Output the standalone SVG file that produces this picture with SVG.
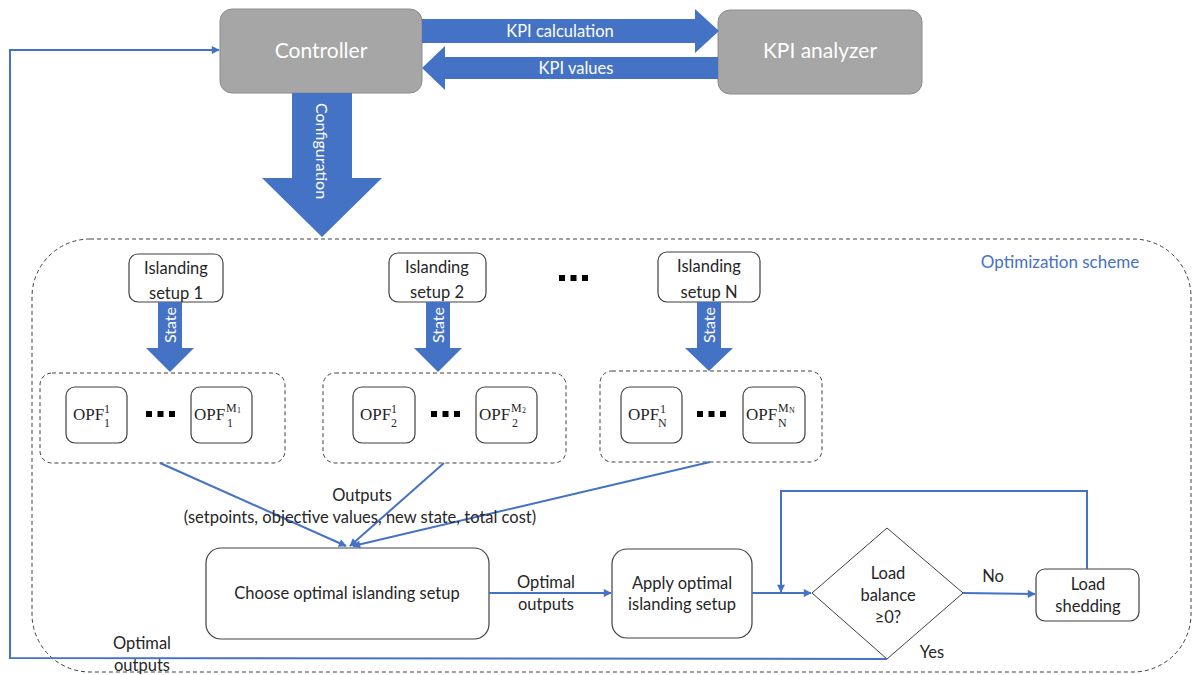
<svg xmlns="http://www.w3.org/2000/svg" width="1192" height="675" viewBox="0 0 1192 675">
  <defs>
    <style>
      .gray { fill: #a6a6a6; stroke: #8c8c8c; stroke-width: 1; }
      .box { fill: #ffffff; stroke: #404040; stroke-width: 1.2; }
      .dash { fill: none; stroke: #404040; stroke-width: 1; stroke-dasharray: 4 3; }
      .block { fill: #4472c4; }
      .wire { fill: none; stroke: #4472c4; stroke-width: 2; }
      .t { font-family: Lato, "Open Sans", sans-serif; font-size: 16.5px; fill: #262626; text-anchor: middle; }
      .w { font-family: Lato, "Open Sans", sans-serif; fill: #ffffff; text-anchor: middle; }
      .m { font-family: "Liberation Serif", "DejaVu Serif", serif; fill: #262626; }
      .dot { fill: #000000; }
    </style>
    <marker id="arrow" viewBox="0 0 10 10" refX="9" refY="5" markerWidth="9" markerHeight="8" markerUnits="userSpaceOnUse" orient="auto">
      <path d="M0,0 L10,5 L0,10 Z" fill="#4472c4"/>
    </marker>
  </defs>

  <!-- Controller and KPI analyzer -->
  <g id="controller">
    <rect class="gray" x="220" y="9" width="202" height="84" rx="12"/>
    <text class="w" x="321" y="58" font-size="21">Controller</text>
  </g>
  <g id="kpi-analyzer">
    <rect class="gray" x="718" y="10" width="204" height="84" rx="12"/>
    <text class="w" x="820" y="58" font-size="21">KPI analyzer</text>
  </g>

  <!-- Block arrows -->
  <g id="kpi-calculation">
    <polygon class="block" points="422,19 695,19 695,9 719,31 695,53 695,43 422,43"/>
    <text class="w" x="560" y="37" font-size="16.5">KPI calculation</text>
  </g>
  <g id="kpi-values">
    <polygon class="block" points="718,57 445,57 445,46 422,68 445,90 445,79 718,79"/>
    <text class="w" x="576" y="74" font-size="16.5">KPI values</text>
  </g>
  <g id="configuration">
    <polygon class="block" points="292,93 352,93 352,178 382,178 322,237 262,178 292,178"/>
    <text class="w" font-size="16" transform="translate(316,151) rotate(90)">Configuration</text>
  </g>

  <!-- Optimization scheme frame -->
  <g id="optimization-scheme">
    <rect class="dash" x="32" y="239" width="1159" height="433" rx="58"/>
    <text x="1060" y="268" font-family="Lato, 'Open Sans', sans-serif" font-size="17" fill="#4472c4" text-anchor="middle">Optimization scheme</text>
  </g>

  <!-- Islanding setups -->
  <g id="setup-1">
    <rect class="box" x="129" y="254" width="94" height="48" rx="9"/>
    <text class="t" x="176" y="274">Islanding</text>
    <text class="t" x="176" y="299">setup 1</text>
  </g>
  <g id="setup-2">
    <rect class="box" x="389" y="253" width="97" height="49" rx="9"/>
    <text class="t" x="437" y="273">Islanding</text>
    <text class="t" x="437" y="298">setup 2</text>
  </g>
  <g id="setup-n">
    <rect class="box" x="658" y="252" width="102" height="50" rx="9"/>
    <text class="t" x="709" y="272">Islanding</text>
    <text class="t" x="709" y="298">setup N</text>
  </g>
  <g id="setup-dots">
    <rect class="dot" x="559" y="275" width="6" height="6"/>
    <rect class="dot" x="570.5" y="275" width="6" height="6"/>
    <rect class="dot" x="582" y="275" width="6" height="6"/>
  </g>

  <!-- State arrows -->
  <g id="state-1">
    <polygon class="block" points="158,302 182,302 182,348 194,348 170,372 146,348 158,348"/>
    <text class="w" font-size="16" transform="translate(176,325) rotate(-90)">State</text>
  </g>
  <g id="state-2">
    <polygon class="block" points="426,302 450,302 450,348 462,348 438,372 414,348 426,348"/>
    <text class="w" font-size="16" transform="translate(444,325) rotate(-90)">State</text>
  </g>
  <g id="state-n">
    <polygon class="block" points="697,302 721,302 721,348 733,348 709,371 685,348 697,348"/>
    <text class="w" font-size="16" transform="translate(715,325) rotate(-90)">State</text>
  </g>

  <!-- OPF group 1 -->
  <g id="opf-group-1">
    <rect class="dash" x="40" y="373" width="245" height="90" rx="12"/>
    <rect class="box" x="66" y="387" width="61" height="56" rx="9"/>
    <text class="m" x="73" y="420" font-size="17">OPF</text>
    <text class="m" x="104" y="413" font-size="12">1</text>
    <text class="m" x="104" y="427" font-size="12">1</text>
    <rect class="dot" x="146" y="411" width="6" height="6"/>
    <rect class="dot" x="157.5" y="411" width="6" height="6"/>
    <rect class="dot" x="169" y="411" width="6" height="6"/>
    <rect class="box" x="191" y="387" width="61" height="56" rx="9"/>
    <text class="m" x="194" y="420" font-size="17">OPF</text>
    <text class="m" x="226" y="412" font-size="12">M</text>
    <text class="m" x="237" y="413" font-size="8">1</text>
    <text class="m" x="227" y="427" font-size="12">1</text>
  </g>

  <!-- OPF group 2 -->
  <g id="opf-group-2">
    <rect class="dash" x="323" y="373" width="243" height="90" rx="12"/>
    <rect class="box" x="353" y="387" width="62" height="56" rx="9"/>
    <text class="m" x="360" y="420" font-size="17">OPF</text>
    <text class="m" x="391" y="413" font-size="12">1</text>
    <text class="m" x="391" y="427" font-size="12">2</text>
    <rect class="dot" x="431" y="411" width="6" height="6"/>
    <rect class="dot" x="442.5" y="411" width="6" height="6"/>
    <rect class="dot" x="454" y="411" width="6" height="6"/>
    <rect class="box" x="476" y="387" width="61" height="56" rx="9"/>
    <text class="m" x="479" y="420" font-size="17">OPF</text>
    <text class="m" x="511" y="412" font-size="12">M</text>
    <text class="m" x="522" y="413" font-size="8">2</text>
    <text class="m" x="512" y="427" font-size="12">2</text>
  </g>

  <!-- OPF group N -->
  <g id="opf-group-n">
    <rect class="dash" x="600" y="371" width="222" height="91" rx="12"/>
    <rect class="box" x="621" y="387" width="61" height="56" rx="9"/>
    <text class="m" x="628" y="420" font-size="17">OPF</text>
    <text class="m" x="660" y="413" font-size="12">1</text>
    <text class="m" x="658" y="427" font-size="12">N</text>
    <rect class="dot" x="697" y="411" width="6" height="6"/>
    <rect class="dot" x="708.5" y="411" width="6" height="6"/>
    <rect class="dot" x="720" y="411" width="6" height="6"/>
    <rect class="box" x="743" y="387" width="62" height="56" rx="9"/>
    <text class="m" x="746" y="420" font-size="17">OPF</text>
    <text class="m" x="778" y="412" font-size="12">M</text>
    <text class="m" x="789" y="413" font-size="8">N</text>
    <text class="m" x="778" y="427" font-size="12">N</text>
  </g>

  <!-- Flowchart nodes -->
  <g id="choose-setup">
    <rect class="box" x="206" y="548" width="283" height="91" rx="15"/>
    <text class="t" x="347" y="599">Choose optimal islanding setup</text>
  </g>
  <g id="apply-setup">
    <rect class="box" x="612" y="549" width="140" height="89" rx="15"/>
    <text class="t" x="682" y="589">Apply optimal</text>
    <text class="t" x="682" y="610">islanding setup</text>
  </g>
  <g id="load-balance">
    <polygon fill="#ffffff" stroke="#404040" stroke-width="1" points="887,528 963,593 887,659 812,593"/>
    <text class="t" x="888" y="579">Load</text>
    <text class="t" x="888" y="601">balance</text>
    <text class="t" x="888" y="623">≥0?</text>
  </g>
  <g id="load-shedding">
    <rect class="box" x="1036" y="569" width="103" height="52" rx="9"/>
    <text class="t" x="1088" y="590">Load</text>
    <text class="t" x="1088" y="612">shedding</text>
  </g>

  <!-- Connectors -->
  <g id="connectors">
    <path class="wire" d="M160,463 L346,546" marker-end="url(#arrow)"/>
    <path class="wire" d="M444,463 L350,546" marker-end="url(#arrow)"/>
    <path class="wire" d="M710,462 L353,546" marker-end="url(#arrow)"/>
    <path class="wire" d="M489,593 L611,593" marker-end="url(#arrow)"/>
    <path class="wire" d="M752,593 L811,593" marker-end="url(#arrow)"/>
    <path class="wire" d="M963,593 L1035,594" marker-end="url(#arrow)"/>
    <path class="wire" d="M1087,569 L1087,491 L781,491 L781,592" marker-end="url(#arrow)"/>
    <path class="wire" d="M887,659 L10,658 L10,50 L219,50" marker-end="url(#arrow)"/>
  </g>

  <!-- Connector labels -->
  <g id="connector-labels">
    <text class="t" x="362" y="501">Outputs</text>
    <text class="t" x="360" y="523">(setpoints, objective values, new state, total cost)</text>
    <text class="t" x="546" y="588">Optimal</text>
    <text class="t" x="546" y="610">outputs</text>
    <text class="t" x="993" y="582">No</text>
    <text class="t" x="932" y="658">Yes</text>
    <text class="t" x="142" y="649">Optimal</text>
    <text class="t" x="142" y="671">outputs</text>
  </g>
</svg>
